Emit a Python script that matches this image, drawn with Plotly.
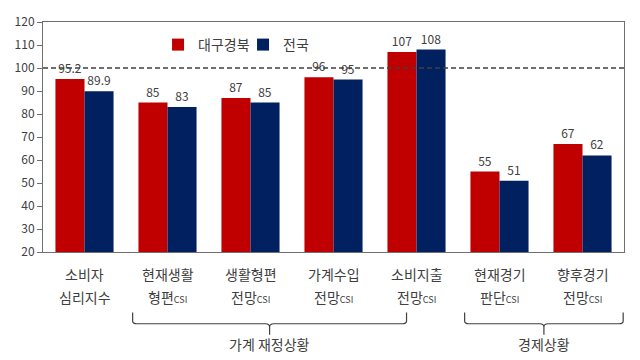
import plotly.graph_objects as go

cat_line1 = ["소비자", "현재생활", "생활형편", "가계수입", "소비지출", "현재경기", "향후경기"]
cat_line2 = ["심리지수", "형편CSI", "전망CSI", "전망CSI", "전망CSI", "판단CSI", "전망CSI"]
daegu = [95.2, 85, 87, 96, 107, 55, 67]
national = [89.9, 83, 85, 95, 108, 51, 62]
series_names = ["대구경북", "전국"]
group_labels = ["가계 재정상황", "경제상황"]
group_spans = [(1, 4), (5, 6)]

FONT = "Noto Sans CJK KR"
TXT = "#404040"
xs = list(range(len(cat_line1)))

fig = go.Figure()
for name, vals, col in [(series_names[0], daegu, "#C00000"), (series_names[1], national, "#002060")]:
    fig.add_trace(go.Bar(
        x=xs, y=vals, name=name, marker=dict(color=col, line=dict(width=0)),
        text=[("%g" % v) for v in vals], textposition="outside", cliponaxis=False,
        textfont=dict(size=12, color=TXT, family=FONT),
    ))

fig.add_hline(y=100, line=dict(color="#404040", width=1.5, dash="5px,3px"))

def fmt(s):
    return s.replace("CSI", "<span style='font-size:9px'>CSI</span>")

for i in xs:
    fig.add_annotation(x=i, y=-0.095, xref="x", yref="paper", text=cat_line1[i], showarrow=False,
                       font=dict(size=14, color=TXT, family=FONT), yanchor="middle")
    fig.add_annotation(x=i, y=-0.195, xref="x", yref="paper", text=fmt(cat_line2[i]), showarrow=False,
                       font=dict(size=14, color=TXT, family=FONT), yanchor="middle")

ytop, ymid, ybot = -0.263, -0.312, -0.360
for (a, b), lab in zip(group_spans, group_labels):
    x0, x1 = a - 0.42, b - 0.12
    if b == 6:
        x1 = b + 0.49
    xm = (x0 + x1) / 2
    d = 0.05
    path = (f"M {x0},{ytop} L {x0},{ymid+0.012} Q {x0},{ymid} {x0+d},{ymid} "
            f"L {xm-d},{ymid} Q {xm},{ymid} {xm},{ymid-0.015} L {xm},{ybot} "
            f"M {xm},{ymid-0.015} Q {xm},{ymid} {xm+d},{ymid} L {x1-d},{ymid} "
            f"Q {x1},{ymid} {x1},{ymid+0.012} L {x1},{ytop}")
    fig.add_shape(type="path", path=path, xref="x", yref="paper",
                  line=dict(color="#404040", width=1.2))
    fig.add_annotation(x=xm, y=-0.40, xref="x", yref="paper", text=lab, showarrow=False,
                       font=dict(size=14, color=TXT, family=FONT), yanchor="middle")

fig.update_layout(
    width=640, height=360,
    margin=dict(l=43, r=16, t=20, b=108),
    paper_bgcolor="white", plot_bgcolor="white",
    barmode="group", bargap=0.3, bargroupgap=0,
    font=dict(family=FONT, color=TXT, size=12),
    showlegend=True,
    legend=dict(orientation="h", x=0.198, y=0.90, xanchor="left", yanchor="middle",
                bgcolor="rgba(0,0,0,0)", font=dict(size=14, color=TXT, family=FONT),
                itemwidth=30, tracegroupgap=0, entrywidth=40, entrywidthmode="pixels"),
    xaxis=dict(range=[-0.5, 6.5], showticklabels=False, ticks="", showgrid=False,
               showline=True, linecolor="#707070", linewidth=1, mirror=True, zeroline=False),
    yaxis=dict(range=[20, 120], dtick=10, ticks="outside", ticklen=5, tickcolor="#707070",
               showgrid=False, showline=True, linecolor="#707070", linewidth=1, mirror=True,
               zeroline=False, tickfont=dict(size=12, color=TXT, family=FONT)),
)

fig.write_html("out.html", config={"displayModeBar": False},
               post_script="document.body.style.margin='0';document.body.style.overflow='hidden';")
